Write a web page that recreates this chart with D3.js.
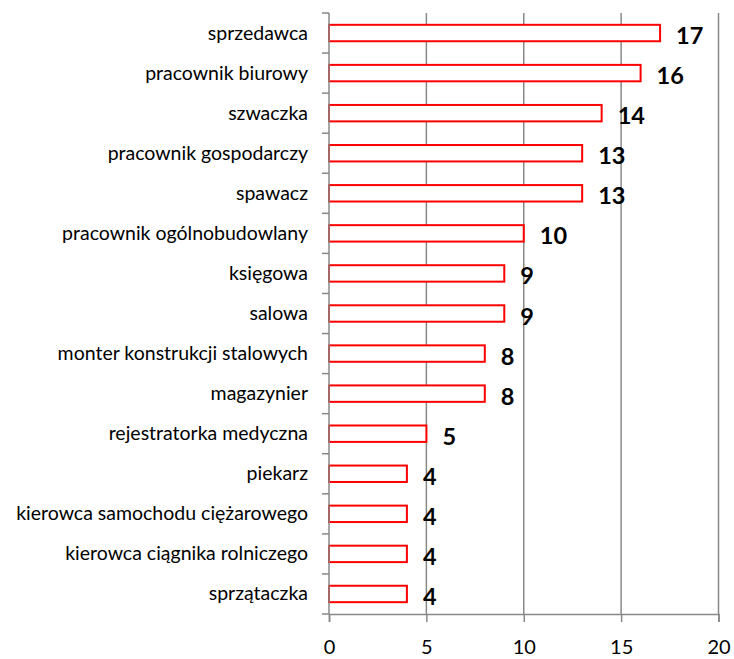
<!DOCTYPE html>
<html>
<head>
<meta charset="utf-8">
<script src="https://cdn.jsdelivr.net/npm/d3@7"></script>
<style>
  body { margin: 0; background: #fff; }
  svg { display: block; }
</style>
</head>
<body>
<svg width="734" height="659"></svg>
<script>
// zawody i liczby
const jobs = ["sprzedawca", "pracownik biurowy", "szwaczka", "pracownik gospodarczy", "spawacz",
  "pracownik ogólnobudowlany", "księgowa", "salowa", "monter konstrukcji stalowych", "magazynier",
  "rejestratorka medyczna", "piekarz", "kierowca samochodu ciężarowego", "kierowca ciągnika rolniczego", "sprzątaczka"];
const counts = [17, 16, 14, 13, 13, 10, 9, 9, 8, 8, 5, 4, 4, 4, 4];
const xTicks = [0, 5, 10, 15, 20];

const svg = d3.select("svg");
const plotL = 329, plotR = 718.5, plotT = 13, plotB = 614;
const font = "Lato, 'Open Sans', sans-serif";
const gray = "#888";

let x = d3.scaleLinear().domain([0, 20]).range([plotL, plotR]);
let y = d3.scaleBand().domain(jobs).range([plotT, plotB]).paddingInner(0.59).paddingOuter(0.295);

// gridlines
svg.append("g").selectAll("line").data(xTicks.slice(1)).join("line")
  .attr("x1", d => x(d)).attr("x2", d => x(d))
  .attr("y1", plotT).attr("y2", plotB)
  .attr("stroke", gray).attr("stroke-width", 1.5);

// bars
svg.append("g").selectAll("rect").data(jobs).join("rect")
  .attr("x", x(0))
  .attr("y", d => y(d))
  .attr("width", (d, i) => x(counts[i]) - x(0))
  .attr("height", y.bandwidth())
  .attr("fill", "#fff")
  .attr("stroke", "#ff0000")
  .attr("stroke-width", 2);

// value labels
svg.append("g").selectAll("text").data(jobs).join("text")
  .attr("x", (d, i) => x(counts[i]) + 16)
  .attr("y", d => y(d) + y.bandwidth() / 2 + 11)
  .attr("font-family", font).attr("font-weight", "bold").attr("font-size", 23.5)
  .attr("fill", "#000")
  .text((d, i) => counts[i]);

// x axis
const xAxis = svg.append("g").attr("transform", `translate(0,${plotB})`)
  .call(d3.axisBottom(x).tickValues(xTicks).tickSize(8).tickPadding(18));
xAxis.select(".domain").attr("stroke", gray).attr("stroke-width", 1.5);
xAxis.selectAll(".tick line").attr("stroke", gray).attr("stroke-width", 1.5);
xAxis.selectAll("text").attr("font-family", font).attr("font-size", 20).attr("fill", "#000");

// y axis (category ticks at band edges)
const bandEdges = d3.range(jobs.length + 1).map(i => plotT + i * (plotB - plotT) / jobs.length);
svg.append("line").attr("x1", plotL).attr("x2", plotL).attr("y1", plotT).attr("y2", plotB)
  .attr("stroke", gray).attr("stroke-width", 1.5);
svg.append("g").selectAll("line").data(bandEdges).join("line")
  .attr("x1", plotL - 7).attr("x2", plotL)
  .attr("y1", d => d).attr("y2", d => d)
  .attr("stroke", gray).attr("stroke-width", 1.5);

svg.append("g").selectAll("text").data(jobs).join("text")
  .attr("x", 308)
  .attr("y", d => y(d) + y.bandwidth() / 2 + 6.5)
  .attr("text-anchor", "end")
  .attr("font-family", font).attr("font-size", 19.5)
  .attr("fill", "#000")
  .text(d => d);
</script>
</body>
</html>
